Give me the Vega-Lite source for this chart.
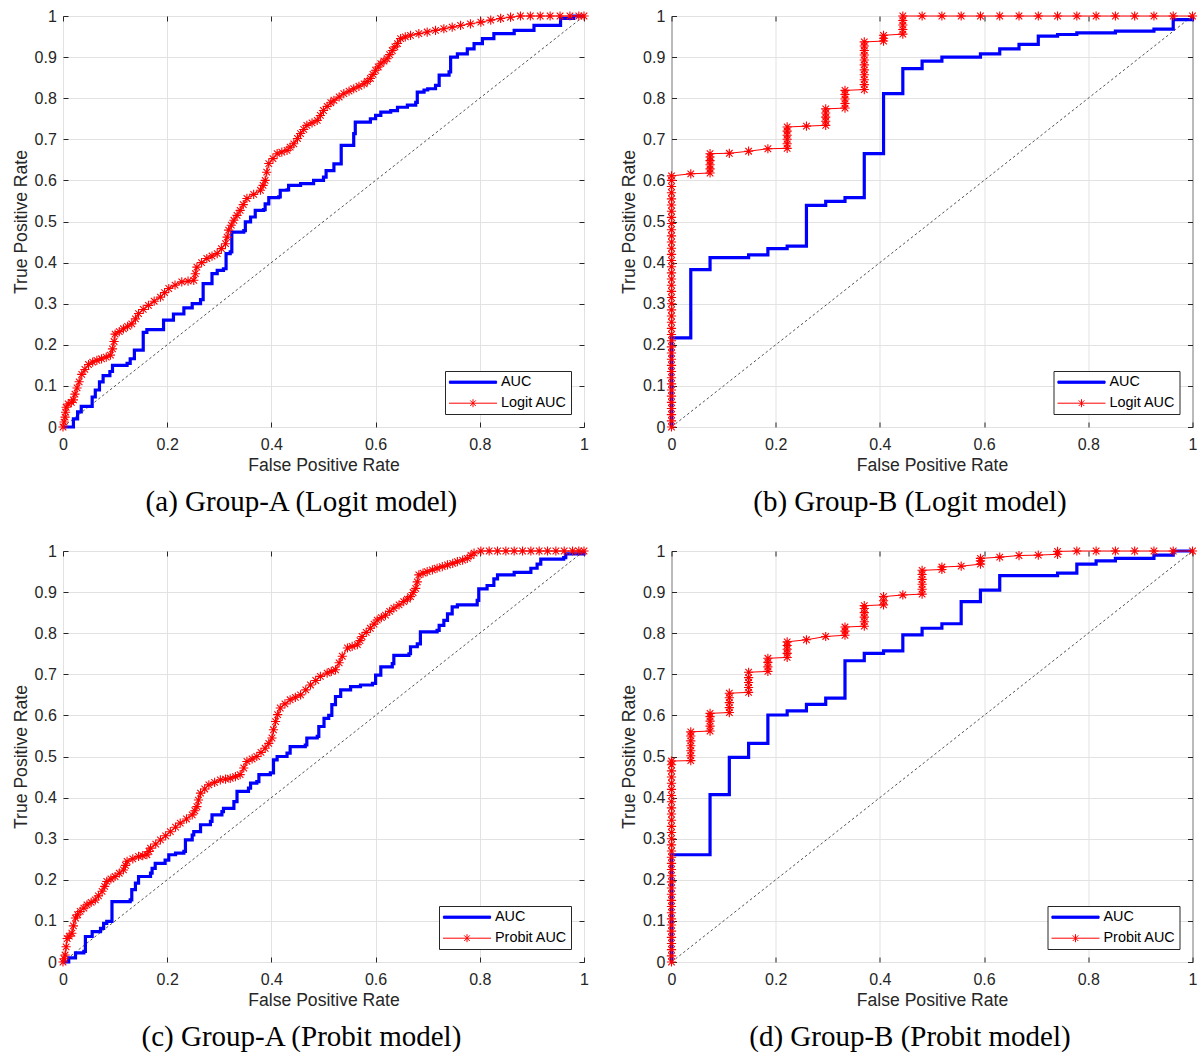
{
"$schema": "https://vega.github.io/schema/vega-lite/v6.json",
"background": "white",
"padding": {"left": 11, "top": 7, "right": 2, "bottom": 2},
"config": {
  "view": {"stroke": "#262626", "strokeWidth": 1},
  "font": "Liberation Sans",
  "axis": {"labelFont": "Liberation Sans", "labelFontSize": 16, "labelColor": "#262626", "titleFont": "Liberation Sans", "titleFontSize": 17.6, "titleColor": "#262626", "titleFontWeight": "normal", "tickColor": "#262626", "tickSize": -5, "domainColor": "#262626", "gridColor": "#e2e2e2", "labelFlush": false, "labelOverlap": false}
},
"datasets": {
"aB": [{"x":0,"y":0},{"x":0.02,"y":0.02},{"x":0.028,"y":0.037},{"x":0.035,"y":0.05},{"x":0.056,"y":0.073},{"x":0.062,"y":0.09},{"x":0.07,"y":0.11},{"x":0.077,"y":0.125},{"x":0.09,"y":0.135},{"x":0.095,"y":0.15},{"x":0.123,"y":0.155},{"x":0.129,"y":0.166},{"x":0.137,"y":0.187},{"x":0.154,"y":0.23},{"x":0.161,"y":0.237},{"x":0.193,"y":0.26},{"x":0.212,"y":0.275},{"x":0.232,"y":0.29},{"x":0.248,"y":0.3},{"x":0.264,"y":0.31},{"x":0.269,"y":0.349},{"x":0.286,"y":0.373},{"x":0.296,"y":0.381},{"x":0.308,"y":0.385},{"x":0.313,"y":0.422},{"x":0.321,"y":0.426},{"x":0.324,"y":0.474},{"x":0.347,"y":0.478},{"x":0.35,"y":0.499},{"x":0.36,"y":0.511},{"x":0.369,"y":0.527},{"x":0.385,"y":0.529},{"x":0.388,"y":0.543},{"x":0.395,"y":0.558},{"x":0.414,"y":0.56},{"x":0.417,"y":0.576},{"x":0.43,"y":0.577},{"x":0.433,"y":0.588},{"x":0.456,"y":0.592},{"x":0.481,"y":0.6},{"x":0.5,"y":0.608},{"x":0.505,"y":0.624},{"x":0.52,"y":0.64},{"x":0.534,"y":0.685},{"x":0.558,"y":0.714},{"x":0.561,"y":0.742},{"x":0.59,"y":0.75},{"x":0.6,"y":0.758},{"x":0.61,"y":0.766},{"x":0.629,"y":0.77},{"x":0.642,"y":0.778},{"x":0.661,"y":0.783},{"x":0.677,"y":0.79},{"x":0.68,"y":0.815},{"x":0.693,"y":0.82},{"x":0.7,"y":0.823},{"x":0.715,"y":0.831},{"x":0.722,"y":0.856},{"x":0.741,"y":0.864},{"x":0.744,"y":0.9},{"x":0.757,"y":0.908},{"x":0.776,"y":0.92},{"x":0.789,"y":0.933},{"x":0.805,"y":0.945},{"x":0.827,"y":0.957},{"x":0.866,"y":0.965},{"x":0.904,"y":0.977},{"x":0.955,"y":0.994},{"x":0.98,"y":1},{"x":1,"y":1}],
"aR": [{"x":0,"y":0},{"x":0.002,"y":0.012},{"x":0.004,"y":0.024},{"x":0.005,"y":0.036},{"x":0.006,"y":0.048},{"x":0.01,"y":0.056},{"x":0.016,"y":0.06},{"x":0.02,"y":0.066},{"x":0.023,"y":0.08},{"x":0.027,"y":0.095},{"x":0.031,"y":0.11},{"x":0.036,"y":0.128},{"x":0.042,"y":0.14},{"x":0.049,"y":0.152},{"x":0.057,"y":0.158},{"x":0.065,"y":0.162},{"x":0.074,"y":0.166},{"x":0.083,"y":0.17},{"x":0.091,"y":0.175},{"x":0.095,"y":0.19},{"x":0.098,"y":0.208},{"x":0.1,"y":0.226},{"x":0.108,"y":0.232},{"x":0.116,"y":0.239},{"x":0.124,"y":0.245},{"x":0.132,"y":0.251},{"x":0.139,"y":0.263},{"x":0.145,"y":0.276},{"x":0.154,"y":0.286},{"x":0.164,"y":0.296},{"x":0.175,"y":0.306},{"x":0.187,"y":0.316},{"x":0.195,"y":0.327},{"x":0.203,"y":0.337},{"x":0.215,"y":0.345},{"x":0.228,"y":0.353},{"x":0.24,"y":0.355},{"x":0.251,"y":0.357},{"x":0.254,"y":0.373},{"x":0.257,"y":0.389},{"x":0.266,"y":0.4},{"x":0.276,"y":0.41},{"x":0.286,"y":0.416},{"x":0.296,"y":0.422},{"x":0.304,"y":0.434},{"x":0.312,"y":0.446},{"x":0.315,"y":0.462},{"x":0.318,"y":0.479},{"x":0.323,"y":0.491},{"x":0.328,"y":0.503},{"x":0.334,"y":0.515},{"x":0.34,"y":0.527},{"x":0.346,"y":0.541},{"x":0.353,"y":0.556},{"x":0.366,"y":0.566},{"x":0.379,"y":0.576},{"x":0.384,"y":0.588},{"x":0.388,"y":0.6},{"x":0.391,"y":0.62},{"x":0.395,"y":0.641},{"x":0.403,"y":0.653},{"x":0.411,"y":0.665},{"x":0.42,"y":0.669},{"x":0.43,"y":0.673},{"x":0.436,"y":0.681},{"x":0.443,"y":0.689},{"x":0.45,"y":0.702},{"x":0.456,"y":0.714},{"x":0.462,"y":0.724},{"x":0.468,"y":0.734},{"x":0.478,"y":0.74},{"x":0.488,"y":0.746},{"x":0.494,"y":0.758},{"x":0.5,"y":0.77},{"x":0.507,"y":0.78},{"x":0.514,"y":0.789},{"x":0.52,"y":0.795},{"x":0.53,"y":0.803},{"x":0.539,"y":0.811},{"x":0.549,"y":0.817},{"x":0.558,"y":0.823},{"x":0.568,"y":0.829},{"x":0.578,"y":0.835},{"x":0.584,"y":0.841},{"x":0.59,"y":0.848},{"x":0.595,"y":0.858},{"x":0.6,"y":0.868},{"x":0.605,"y":0.876},{"x":0.61,"y":0.884},{"x":0.616,"y":0.89},{"x":0.622,"y":0.896},{"x":0.627,"y":0.906},{"x":0.632,"y":0.916},{"x":0.637,"y":0.925},{"x":0.642,"y":0.933},{"x":0.648,"y":0.945},{"x":0.657,"y":0.949},{"x":0.667,"y":0.953},{"x":0.683,"y":0.957},{"x":0.699,"y":0.961},{"x":0.715,"y":0.965},{"x":0.731,"y":0.969},{"x":0.747,"y":0.973},{"x":0.763,"y":0.977},{"x":0.782,"y":0.981},{"x":0.802,"y":0.985},{"x":0.821,"y":0.99},{"x":0.84,"y":0.994},{"x":0.859,"y":0.997},{"x":0.878,"y":1},{"x":0.897,"y":1},{"x":0.916,"y":1},{"x":0.935,"y":1},{"x":0.954,"y":1},{"x":0.973,"y":1},{"x":0.99,"y":1},{"x":1,"y":1}],
"bB": [{"x":0,"y":0},{"x":0,"y":0.217},{"x":0.037,"y":0.383},{"x":0.074,"y":0.412},{"x":0.148,"y":0.419},{"x":0.185,"y":0.434},{"x":0.222,"y":0.44},{"x":0.259,"y":0.539},{"x":0.296,"y":0.549},{"x":0.333,"y":0.558},{"x":0.37,"y":0.665},{"x":0.407,"y":0.811},{"x":0.444,"y":0.872},{"x":0.481,"y":0.89},{"x":0.519,"y":0.9},{"x":0.593,"y":0.908},{"x":0.63,"y":0.92},{"x":0.667,"y":0.931},{"x":0.704,"y":0.951},{"x":0.741,"y":0.955},{"x":0.778,"y":0.959},{"x":0.852,"y":0.963},{"x":0.926,"y":0.968},{"x":0.963,"y":0.991},{"x":1,"y":1}],
"bR": [{"x":0,"y":0},{"x":0,"y":0.015},{"x":0,"y":0.03},{"x":0,"y":0.045},{"x":0,"y":0.06},{"x":0,"y":0.075},{"x":0,"y":0.09},{"x":0,"y":0.105},{"x":0,"y":0.12},{"x":0,"y":0.135},{"x":0,"y":0.15},{"x":0,"y":0.165},{"x":0,"y":0.18},{"x":0,"y":0.195},{"x":0,"y":0.21},{"x":0,"y":0.225},{"x":0,"y":0.24},{"x":0,"y":0.255},{"x":0,"y":0.27},{"x":0,"y":0.285},{"x":0,"y":0.3},{"x":0,"y":0.315},{"x":0,"y":0.33},{"x":0,"y":0.345},{"x":0,"y":0.36},{"x":0,"y":0.375},{"x":0,"y":0.39},{"x":0,"y":0.405},{"x":0,"y":0.42},{"x":0,"y":0.435},{"x":0,"y":0.45},{"x":0,"y":0.465},{"x":0,"y":0.48},{"x":0,"y":0.495},{"x":0,"y":0.51},{"x":0,"y":0.525},{"x":0,"y":0.54},{"x":0,"y":0.555},{"x":0,"y":0.57},{"x":0,"y":0.585},{"x":0,"y":0.6},{"x":0,"y":0.611},{"x":0.037,"y":0.616},{"x":0.074,"y":0.618},{"x":0.074,"y":0.628},{"x":0.074,"y":0.638},{"x":0.074,"y":0.648},{"x":0.074,"y":0.657},{"x":0.074,"y":0.665},{"x":0.111,"y":0.666},{"x":0.148,"y":0.671},{"x":0.185,"y":0.677},{"x":0.222,"y":0.678},{"x":0.222,"y":0.689},{"x":0.222,"y":0.7},{"x":0.222,"y":0.71},{"x":0.222,"y":0.72},{"x":0.222,"y":0.73},{"x":0.259,"y":0.732},{"x":0.296,"y":0.734},{"x":0.296,"y":0.744},{"x":0.296,"y":0.754},{"x":0.296,"y":0.764},{"x":0.296,"y":0.774},{"x":0.333,"y":0.776},{"x":0.333,"y":0.787},{"x":0.333,"y":0.798},{"x":0.333,"y":0.809},{"x":0.333,"y":0.819},{"x":0.37,"y":0.821},{"x":0.37,"y":0.833},{"x":0.37,"y":0.845},{"x":0.37,"y":0.857},{"x":0.37,"y":0.869},{"x":0.37,"y":0.881},{"x":0.37,"y":0.893},{"x":0.37,"y":0.905},{"x":0.37,"y":0.916},{"x":0.37,"y":0.927},{"x":0.37,"y":0.937},{"x":0.407,"y":0.939},{"x":0.407,"y":0.946},{"x":0.407,"y":0.953},{"x":0.444,"y":0.956},{"x":0.444,"y":0.967},{"x":0.444,"y":0.978},{"x":0.444,"y":0.989},{"x":0.444,"y":1},{"x":0.481,"y":1},{"x":0.519,"y":1},{"x":0.556,"y":1},{"x":0.593,"y":1},{"x":0.63,"y":1},{"x":0.667,"y":1},{"x":0.704,"y":1},{"x":0.741,"y":1},{"x":0.778,"y":1},{"x":0.815,"y":1},{"x":0.852,"y":1},{"x":0.889,"y":1},{"x":0.926,"y":1},{"x":0.963,"y":1},{"x":1,"y":1}],
"cB": [{"x":0,"y":0},{"x":0.011,"y":0.01},{"x":0.024,"y":0.022},{"x":0.04,"y":0.026},{"x":0.043,"y":0.062},{"x":0.056,"y":0.074},{"x":0.072,"y":0.082},{"x":0.078,"y":0.094},{"x":0.084,"y":0.099},{"x":0.094,"y":0.147},{"x":0.129,"y":0.151},{"x":0.132,"y":0.176},{"x":0.139,"y":0.192},{"x":0.145,"y":0.208},{"x":0.168,"y":0.216},{"x":0.171,"y":0.228},{"x":0.177,"y":0.24},{"x":0.196,"y":0.248},{"x":0.203,"y":0.261},{"x":0.216,"y":0.265},{"x":0.232,"y":0.269},{"x":0.235,"y":0.297},{"x":0.248,"y":0.309},{"x":0.251,"y":0.317},{"x":0.264,"y":0.334},{"x":0.283,"y":0.342},{"x":0.286,"y":0.358},{"x":0.305,"y":0.366},{"x":0.308,"y":0.374},{"x":0.328,"y":0.39},{"x":0.334,"y":0.415},{"x":0.356,"y":0.423},{"x":0.36,"y":0.435},{"x":0.372,"y":0.439},{"x":0.376,"y":0.456},{"x":0.398,"y":0.46},{"x":0.404,"y":0.492},{"x":0.411,"y":0.5},{"x":0.43,"y":0.508},{"x":0.436,"y":0.524},{"x":0.465,"y":0.528},{"x":0.468,"y":0.545},{"x":0.488,"y":0.549},{"x":0.491,"y":0.573},{"x":0.501,"y":0.593},{"x":0.51,"y":0.6},{"x":0.516,"y":0.626},{"x":0.523,"y":0.646},{"x":0.533,"y":0.662},{"x":0.552,"y":0.67},{"x":0.571,"y":0.674},{"x":0.594,"y":0.678},{"x":0.6,"y":0.698},{"x":0.61,"y":0.718},{"x":0.632,"y":0.726},{"x":0.635,"y":0.746},{"x":0.664,"y":0.75},{"x":0.667,"y":0.767},{"x":0.68,"y":0.774},{"x":0.686,"y":0.803},{"x":0.718,"y":0.807},{"x":0.722,"y":0.819},{"x":0.731,"y":0.831},{"x":0.738,"y":0.847},{"x":0.747,"y":0.864},{"x":0.757,"y":0.869},{"x":0.795,"y":0.88},{"x":0.798,"y":0.908},{"x":0.814,"y":0.916},{"x":0.827,"y":0.932},{"x":0.834,"y":0.942},{"x":0.866,"y":0.948},{"x":0.898,"y":0.958},{"x":0.91,"y":0.968},{"x":0.917,"y":0.98},{"x":0.961,"y":0.984},{"x":0.965,"y":0.993},{"x":1,"y":1}],
"cR": [{"x":0,"y":0},{"x":0.002,"y":0.008},{"x":0.004,"y":0.017},{"x":0.006,"y":0.037},{"x":0.008,"y":0.057},{"x":0.012,"y":0.063},{"x":0.017,"y":0.07},{"x":0.02,"y":0.088},{"x":0.024,"y":0.107},{"x":0.028,"y":0.115},{"x":0.033,"y":0.123},{"x":0.04,"y":0.131},{"x":0.046,"y":0.139},{"x":0.054,"y":0.145},{"x":0.062,"y":0.151},{"x":0.068,"y":0.161},{"x":0.075,"y":0.172},{"x":0.08,"y":0.184},{"x":0.084,"y":0.196},{"x":0.092,"y":0.202},{"x":0.1,"y":0.208},{"x":0.108,"y":0.216},{"x":0.116,"y":0.224},{"x":0.12,"y":0.235},{"x":0.123,"y":0.245},{"x":0.134,"y":0.251},{"x":0.145,"y":0.257},{"x":0.153,"y":0.259},{"x":0.161,"y":0.261},{"x":0.165,"y":0.269},{"x":0.168,"y":0.277},{"x":0.178,"y":0.287},{"x":0.187,"y":0.297},{"x":0.197,"y":0.307},{"x":0.206,"y":0.317},{"x":0.216,"y":0.328},{"x":0.225,"y":0.338},{"x":0.237,"y":0.348},{"x":0.248,"y":0.358},{"x":0.253,"y":0.368},{"x":0.257,"y":0.378},{"x":0.26,"y":0.394},{"x":0.264,"y":0.411},{"x":0.272,"y":0.421},{"x":0.28,"y":0.431},{"x":0.291,"y":0.437},{"x":0.302,"y":0.443},{"x":0.312,"y":0.445},{"x":0.321,"y":0.447},{"x":0.331,"y":0.451},{"x":0.34,"y":0.456},{"x":0.347,"y":0.472},{"x":0.353,"y":0.488},{"x":0.363,"y":0.494},{"x":0.372,"y":0.5},{"x":0.38,"y":0.51},{"x":0.388,"y":0.52},{"x":0.395,"y":0.532},{"x":0.401,"y":0.545},{"x":0.404,"y":0.565},{"x":0.408,"y":0.585},{"x":0.412,"y":0.602},{"x":0.417,"y":0.618},{"x":0.426,"y":0.628},{"x":0.436,"y":0.638},{"x":0.446,"y":0.644},{"x":0.456,"y":0.65},{"x":0.466,"y":0.662},{"x":0.475,"y":0.674},{"x":0.485,"y":0.685},{"x":0.494,"y":0.695},{"x":0.507,"y":0.703},{"x":0.515,"y":0.707},{"x":0.523,"y":0.711},{"x":0.53,"y":0.728},{"x":0.536,"y":0.744},{"x":0.546,"y":0.764},{"x":0.555,"y":0.768},{"x":0.565,"y":0.772},{"x":0.57,"y":0.782},{"x":0.574,"y":0.792},{"x":0.582,"y":0.802},{"x":0.59,"y":0.812},{"x":0.597,"y":0.822},{"x":0.603,"y":0.832},{"x":0.611,"y":0.838},{"x":0.619,"y":0.844},{"x":0.627,"y":0.853},{"x":0.635,"y":0.861},{"x":0.645,"y":0.869},{"x":0.654,"y":0.877},{"x":0.661,"y":0.883},{"x":0.667,"y":0.889},{"x":0.672,"y":0.899},{"x":0.677,"y":0.909},{"x":0.68,"y":0.925},{"x":0.683,"y":0.942},{"x":0.691,"y":0.946},{"x":0.699,"y":0.95},{"x":0.709,"y":0.954},{"x":0.718,"y":0.958},{"x":0.728,"y":0.962},{"x":0.738,"y":0.966},{"x":0.748,"y":0.97},{"x":0.757,"y":0.974},{"x":0.767,"y":0.978},{"x":0.776,"y":0.982},{"x":0.783,"y":0.989},{"x":0.789,"y":0.995},{"x":0.802,"y":1},{"x":0.818,"y":1},{"x":0.834,"y":1},{"x":0.85,"y":1},{"x":0.866,"y":1},{"x":0.882,"y":1},{"x":0.898,"y":1},{"x":0.914,"y":1},{"x":0.93,"y":1},{"x":0.946,"y":1},{"x":0.962,"y":1},{"x":0.978,"y":1},{"x":0.99,"y":1},{"x":1,"y":1}],
"dB": [{"x":0,"y":0},{"x":0,"y":0.261},{"x":0.074,"y":0.407},{"x":0.111,"y":0.498},{"x":0.148,"y":0.532},{"x":0.185,"y":0.601},{"x":0.222,"y":0.611},{"x":0.259,"y":0.627},{"x":0.296,"y":0.642},{"x":0.333,"y":0.733},{"x":0.37,"y":0.751},{"x":0.407,"y":0.757},{"x":0.444,"y":0.796},{"x":0.481,"y":0.812},{"x":0.519,"y":0.823},{"x":0.556,"y":0.877},{"x":0.593,"y":0.905},{"x":0.63,"y":0.94},{"x":0.741,"y":0.946},{"x":0.778,"y":0.968},{"x":0.815,"y":0.976},{"x":0.852,"y":0.982},{"x":0.926,"y":0.99},{"x":0.963,"y":1},{"x":1,"y":1}],
"dR": [{"x":0,"y":0},{"x":0,"y":0.015},{"x":0,"y":0.03},{"x":0,"y":0.045},{"x":0,"y":0.06},{"x":0,"y":0.075},{"x":0,"y":0.09},{"x":0,"y":0.105},{"x":0,"y":0.12},{"x":0,"y":0.135},{"x":0,"y":0.15},{"x":0,"y":0.165},{"x":0,"y":0.18},{"x":0,"y":0.195},{"x":0,"y":0.21},{"x":0,"y":0.225},{"x":0,"y":0.24},{"x":0,"y":0.255},{"x":0,"y":0.27},{"x":0,"y":0.285},{"x":0,"y":0.3},{"x":0,"y":0.315},{"x":0,"y":0.33},{"x":0,"y":0.345},{"x":0,"y":0.36},{"x":0,"y":0.375},{"x":0,"y":0.39},{"x":0,"y":0.405},{"x":0,"y":0.42},{"x":0,"y":0.435},{"x":0,"y":0.45},{"x":0,"y":0.465},{"x":0,"y":0.48},{"x":0,"y":0.489},{"x":0.037,"y":0.49},{"x":0.037,"y":0.502},{"x":0.037,"y":0.514},{"x":0.037,"y":0.526},{"x":0.037,"y":0.538},{"x":0.037,"y":0.55},{"x":0.037,"y":0.56},{"x":0.074,"y":0.562},{"x":0.074,"y":0.574},{"x":0.074,"y":0.586},{"x":0.074,"y":0.597},{"x":0.074,"y":0.605},{"x":0.111,"y":0.607},{"x":0.111,"y":0.619},{"x":0.111,"y":0.631},{"x":0.111,"y":0.643},{"x":0.111,"y":0.654},{"x":0.148,"y":0.656},{"x":0.148,"y":0.668},{"x":0.148,"y":0.68},{"x":0.148,"y":0.692},{"x":0.148,"y":0.705},{"x":0.185,"y":0.707},{"x":0.185,"y":0.718},{"x":0.185,"y":0.729},{"x":0.185,"y":0.739},{"x":0.222,"y":0.741},{"x":0.222,"y":0.751},{"x":0.222,"y":0.761},{"x":0.222,"y":0.77},{"x":0.222,"y":0.779},{"x":0.259,"y":0.784},{"x":0.296,"y":0.792},{"x":0.333,"y":0.795},{"x":0.333,"y":0.805},{"x":0.333,"y":0.815},{"x":0.37,"y":0.817},{"x":0.37,"y":0.828},{"x":0.37,"y":0.839},{"x":0.37,"y":0.85},{"x":0.37,"y":0.86},{"x":0.37,"y":0.867},{"x":0.407,"y":0.869},{"x":0.407,"y":0.879},{"x":0.407,"y":0.889},{"x":0.444,"y":0.893},{"x":0.481,"y":0.895},{"x":0.481,"y":0.907},{"x":0.481,"y":0.919},{"x":0.481,"y":0.931},{"x":0.481,"y":0.943},{"x":0.481,"y":0.953},{"x":0.519,"y":0.955},{"x":0.519,"y":0.961},{"x":0.556,"y":0.963},{"x":0.593,"y":0.968},{"x":0.593,"y":0.976},{"x":0.593,"y":0.982},{"x":0.63,"y":0.985},{"x":0.667,"y":0.989},{"x":0.704,"y":0.99},{"x":0.741,"y":0.992},{"x":0.741,"y":0.999},{"x":0.778,"y":1},{"x":0.815,"y":1},{"x":0.852,"y":1},{"x":0.889,"y":1},{"x":0.926,"y":1},{"x":0.963,"y":1},{"x":1,"y":1}]
},
"columns": 2,
"spacing": {"column": 27.5, "row": 24},
"resolve": {"scale": {"color": "independent"}, "legend": {"color": "independent"}},
"concat": [
{
 "width": 521, "height": 411,
 "title": {"text": "(a) Group-A (Logit model)", "orient": "bottom", "frame": "bounds", "anchor": "middle", "font": "Liberation Serif", "fontSize": 29, "fontWeight": "normal", "color": "#000000", "offset": 14},
 "resolve": {"axis": {"x": "independent", "y": "independent"}},
 "layer": [
  {"data": {"values": [{"x":0,"y":0},{"x":1,"y":1}]}, "mark": {"type": "line", "color": "#262626", "strokeWidth": 0.8, "strokeDash": [2.5, 2.5]},
   "encoding": {"x": {"field": "x", "type": "quantitative", "scale": {"domain": [0, 1], "nice": false}, "axis": {"orient": "bottom", "values": [0,0.2,0.4,0.6,0.8,1], "format": "~g", "grid": true, "domain": false, "title": "False Positive Rate", "labelPadding": 14, "titlePadding": 4}},
                "y": {"field": "y", "type": "quantitative", "scale": {"domain": [0, 1], "nice": false}, "axis": {"orient": "left", "values": [0,0.1,0.2,0.3,0.4,0.5,0.6,0.7,0.8,0.9,1], "format": "~g", "grid": true, "domain": false, "title": "True Positive Rate", "labelPadding": 11.7, "titlePadding": 4}}}},
  {"data": {"name": "aB"}, "mark": {"type": "line", "interpolate": "step-after", "strokeWidth": 3.2},
   "encoding": {"x": {"field": "x", "type": "quantitative", "axis": {"orient": "top", "values": [0,0.2,0.4,0.6,0.8,1], "grid": false, "labels": false, "domain": false, "title": null}},
                "y": {"field": "y", "type": "quantitative", "axis": {"orient": "right", "values": [0,0.1,0.2,0.3,0.4,0.5,0.6,0.7,0.8,0.9,1], "grid": false, "labels": false, "domain": false, "title": null}},
                "order": [{"field": "x", "type": "quantitative"}, {"field": "y", "type": "quantitative"}],
                "color": {"datum": "AUC", "type": "nominal", "scale": {"domain": ["AUC", "Logit AUC"], "range": ["#0000ff", "#ff0000"]},
                          "legend": {"title": null, "orient": "bottom-right", "offset": 13, "padding": 4, "rowPadding": 6, "labelFont": "Liberation Sans", "labelFontSize": 14.4, "labelColor": "#000000", "labelOffset": 37.6, "labelLimit": 300, "strokeColor": "#262626", "fillColor": "#ffffff", "symbolSize": 16, "cornerRadius": 0,
                                     "encoding": {"symbols": {"shape": {"condition": {"test": "datum.value === 'AUC'", "value": "M-3.4,-0.55L20.2,-0.55L20.2,0.55L-3.4,0.55Z"}, "value": "M-3.6,0L20.4,0M8.4,-2L8.4,2M7,-1.4L9.8,1.4M7,1.4L9.8,-1.4"},
                                                              "fill": {"condition": {"test": "datum.value === 'AUC'", "value": "#0000ff"}, "value": "transparent"},
                                                              "stroke": {"condition": {"test": "datum.value === 'AUC'", "value": "#0000ff"}, "value": "#ff0000"},
                                                              "strokeWidth": {"value": 1}, "size": {"value": 16}, "opacity": {"value": 1}, "strokeDash": {"value": []}}}}}}},
  {"data": {"name": "aR"}, "mark": {"type": "line", "strokeWidth": 1},
   "encoding": {"x": {"field": "x", "type": "quantitative", "axis": null}, "y": {"field": "y", "type": "quantitative", "axis": null},
                "order": [{"field": "x", "type": "quantitative"}, {"field": "y", "type": "quantitative"}],
                "color": {"datum": "Logit AUC", "type": "nominal"}}},
  {"data": {"name": "aR"}, "mark": {"type": "point", "shape": "M0,-1L0,1M-1,0L1,0M-0.71,-0.71L0.71,0.71M-0.71,0.71L0.71,-0.71", "filled": false, "size": 85, "strokeWidth": 1.1, "opacity": 1},
   "encoding": {"x": {"field": "x", "type": "quantitative", "axis": null}, "y": {"field": "y", "type": "quantitative", "axis": null},
                "color": {"datum": "Logit AUC", "type": "nominal"}}}
 ]
},
{
 "width": 521, "height": 411,
 "title": {"text": "(b) Group-B (Logit model)", "orient": "bottom", "frame": "bounds", "anchor": "middle", "font": "Liberation Serif", "fontSize": 29, "fontWeight": "normal", "color": "#000000", "offset": 14},
 "resolve": {"axis": {"x": "independent", "y": "independent"}},
 "layer": [
  {"data": {"values": [{"x":0,"y":0},{"x":1,"y":1}]}, "mark": {"type": "line", "color": "#262626", "strokeWidth": 0.8, "strokeDash": [2.5, 2.5]},
   "encoding": {"x": {"field": "x", "type": "quantitative", "scale": {"domain": [0, 1], "nice": false}, "axis": {"orient": "bottom", "values": [0,0.2,0.4,0.6,0.8,1], "format": "~g", "grid": true, "domain": false, "title": "False Positive Rate", "labelPadding": 14, "titlePadding": 4}},
                "y": {"field": "y", "type": "quantitative", "scale": {"domain": [0, 1], "nice": false}, "axis": {"orient": "left", "values": [0,0.1,0.2,0.3,0.4,0.5,0.6,0.7,0.8,0.9,1], "format": "~g", "grid": true, "domain": false, "title": "True Positive Rate", "labelPadding": 11.7, "titlePadding": 4}}}},
  {"data": {"name": "bB"}, "mark": {"type": "line", "interpolate": "step-after", "strokeWidth": 3.2},
   "encoding": {"x": {"field": "x", "type": "quantitative", "axis": {"orient": "top", "values": [0,0.2,0.4,0.6,0.8,1], "grid": false, "labels": false, "domain": false, "title": null}},
                "y": {"field": "y", "type": "quantitative", "axis": {"orient": "right", "values": [0,0.1,0.2,0.3,0.4,0.5,0.6,0.7,0.8,0.9,1], "grid": false, "labels": false, "domain": false, "title": null}},
                "order": [{"field": "x", "type": "quantitative"}, {"field": "y", "type": "quantitative"}],
                "color": {"datum": "AUC", "type": "nominal", "scale": {"domain": ["AUC", "Logit AUC"], "range": ["#0000ff", "#ff0000"]},
                          "legend": {"title": null, "orient": "bottom-right", "offset": 13, "padding": 4, "rowPadding": 6, "labelFont": "Liberation Sans", "labelFontSize": 14.4, "labelColor": "#000000", "labelOffset": 37.6, "labelLimit": 300, "strokeColor": "#262626", "fillColor": "#ffffff", "symbolSize": 16, "cornerRadius": 0,
                                     "encoding": {"symbols": {"shape": {"condition": {"test": "datum.value === 'AUC'", "value": "M-3.4,-0.55L20.2,-0.55L20.2,0.55L-3.4,0.55Z"}, "value": "M-3.6,0L20.4,0M8.4,-2L8.4,2M7,-1.4L9.8,1.4M7,1.4L9.8,-1.4"},
                                                              "fill": {"condition": {"test": "datum.value === 'AUC'", "value": "#0000ff"}, "value": "transparent"},
                                                              "stroke": {"condition": {"test": "datum.value === 'AUC'", "value": "#0000ff"}, "value": "#ff0000"},
                                                              "strokeWidth": {"value": 1}, "size": {"value": 16}, "opacity": {"value": 1}, "strokeDash": {"value": []}}}}}}},
  {"data": {"name": "bR"}, "mark": {"type": "line", "strokeWidth": 1},
   "encoding": {"x": {"field": "x", "type": "quantitative", "axis": null}, "y": {"field": "y", "type": "quantitative", "axis": null},
                "order": [{"field": "x", "type": "quantitative"}, {"field": "y", "type": "quantitative"}],
                "color": {"datum": "Logit AUC", "type": "nominal"}}},
  {"data": {"name": "bR"}, "mark": {"type": "point", "shape": "M0,-1L0,1M-1,0L1,0M-0.71,-0.71L0.71,0.71M-0.71,0.71L0.71,-0.71", "filled": false, "size": 85, "strokeWidth": 1.1, "opacity": 1},
   "encoding": {"x": {"field": "x", "type": "quantitative", "axis": null}, "y": {"field": "y", "type": "quantitative", "axis": null},
                "color": {"datum": "Logit AUC", "type": "nominal"}}}
 ]
},
{
 "width": 521, "height": 411,
 "title": {"text": "(c) Group-A (Probit model)", "orient": "bottom", "frame": "bounds", "anchor": "middle", "font": "Liberation Serif", "fontSize": 29, "fontWeight": "normal", "color": "#000000", "offset": 14},
 "resolve": {"axis": {"x": "independent", "y": "independent"}},
 "layer": [
  {"data": {"values": [{"x":0,"y":0},{"x":1,"y":1}]}, "mark": {"type": "line", "color": "#262626", "strokeWidth": 0.8, "strokeDash": [2.5, 2.5]},
   "encoding": {"x": {"field": "x", "type": "quantitative", "scale": {"domain": [0, 1], "nice": false}, "axis": {"orient": "bottom", "values": [0,0.2,0.4,0.6,0.8,1], "format": "~g", "grid": true, "domain": false, "title": "False Positive Rate", "labelPadding": 14, "titlePadding": 4}},
                "y": {"field": "y", "type": "quantitative", "scale": {"domain": [0, 1], "nice": false}, "axis": {"orient": "left", "values": [0,0.1,0.2,0.3,0.4,0.5,0.6,0.7,0.8,0.9,1], "format": "~g", "grid": true, "domain": false, "title": "True Positive Rate", "labelPadding": 11.7, "titlePadding": 4}}}},
  {"data": {"name": "cB"}, "mark": {"type": "line", "interpolate": "step-after", "strokeWidth": 3.2},
   "encoding": {"x": {"field": "x", "type": "quantitative", "axis": {"orient": "top", "values": [0,0.2,0.4,0.6,0.8,1], "grid": false, "labels": false, "domain": false, "title": null}},
                "y": {"field": "y", "type": "quantitative", "axis": {"orient": "right", "values": [0,0.1,0.2,0.3,0.4,0.5,0.6,0.7,0.8,0.9,1], "grid": false, "labels": false, "domain": false, "title": null}},
                "order": [{"field": "x", "type": "quantitative"}, {"field": "y", "type": "quantitative"}],
                "color": {"datum": "AUC", "type": "nominal", "scale": {"domain": ["AUC", "Probit AUC"], "range": ["#0000ff", "#ff0000"]},
                          "legend": {"title": null, "orient": "bottom-right", "offset": 13, "padding": 4, "rowPadding": 6, "labelFont": "Liberation Sans", "labelFontSize": 14.4, "labelColor": "#000000", "labelOffset": 37.6, "labelLimit": 300, "strokeColor": "#262626", "fillColor": "#ffffff", "symbolSize": 16, "cornerRadius": 0,
                                     "encoding": {"symbols": {"shape": {"condition": {"test": "datum.value === 'AUC'", "value": "M-3.4,-0.55L20.2,-0.55L20.2,0.55L-3.4,0.55Z"}, "value": "M-3.6,0L20.4,0M8.4,-2L8.4,2M7,-1.4L9.8,1.4M7,1.4L9.8,-1.4"},
                                                              "fill": {"condition": {"test": "datum.value === 'AUC'", "value": "#0000ff"}, "value": "transparent"},
                                                              "stroke": {"condition": {"test": "datum.value === 'AUC'", "value": "#0000ff"}, "value": "#ff0000"},
                                                              "strokeWidth": {"value": 1}, "size": {"value": 16}, "opacity": {"value": 1}, "strokeDash": {"value": []}}}}}}},
  {"data": {"name": "cR"}, "mark": {"type": "line", "strokeWidth": 1},
   "encoding": {"x": {"field": "x", "type": "quantitative", "axis": null}, "y": {"field": "y", "type": "quantitative", "axis": null},
                "order": [{"field": "x", "type": "quantitative"}, {"field": "y", "type": "quantitative"}],
                "color": {"datum": "Probit AUC", "type": "nominal"}}},
  {"data": {"name": "cR"}, "mark": {"type": "point", "shape": "M0,-1L0,1M-1,0L1,0M-0.71,-0.71L0.71,0.71M-0.71,0.71L0.71,-0.71", "filled": false, "size": 85, "strokeWidth": 1.1, "opacity": 1},
   "encoding": {"x": {"field": "x", "type": "quantitative", "axis": null}, "y": {"field": "y", "type": "quantitative", "axis": null},
                "color": {"datum": "Probit AUC", "type": "nominal"}}}
 ]
},
{
 "width": 521, "height": 411,
 "title": {"text": "(d) Group-B (Probit model)", "orient": "bottom", "frame": "bounds", "anchor": "middle", "font": "Liberation Serif", "fontSize": 29, "fontWeight": "normal", "color": "#000000", "offset": 14},
 "resolve": {"axis": {"x": "independent", "y": "independent"}},
 "layer": [
  {"data": {"values": [{"x":0,"y":0},{"x":1,"y":1}]}, "mark": {"type": "line", "color": "#262626", "strokeWidth": 0.8, "strokeDash": [2.5, 2.5]},
   "encoding": {"x": {"field": "x", "type": "quantitative", "scale": {"domain": [0, 1], "nice": false}, "axis": {"orient": "bottom", "values": [0,0.2,0.4,0.6,0.8,1], "format": "~g", "grid": true, "domain": false, "title": "False Positive Rate", "labelPadding": 14, "titlePadding": 4}},
                "y": {"field": "y", "type": "quantitative", "scale": {"domain": [0, 1], "nice": false}, "axis": {"orient": "left", "values": [0,0.1,0.2,0.3,0.4,0.5,0.6,0.7,0.8,0.9,1], "format": "~g", "grid": true, "domain": false, "title": "True Positive Rate", "labelPadding": 11.7, "titlePadding": 4}}}},
  {"data": {"name": "dB"}, "mark": {"type": "line", "interpolate": "step-after", "strokeWidth": 3.2},
   "encoding": {"x": {"field": "x", "type": "quantitative", "axis": {"orient": "top", "values": [0,0.2,0.4,0.6,0.8,1], "grid": false, "labels": false, "domain": false, "title": null}},
                "y": {"field": "y", "type": "quantitative", "axis": {"orient": "right", "values": [0,0.1,0.2,0.3,0.4,0.5,0.6,0.7,0.8,0.9,1], "grid": false, "labels": false, "domain": false, "title": null}},
                "order": [{"field": "x", "type": "quantitative"}, {"field": "y", "type": "quantitative"}],
                "color": {"datum": "AUC", "type": "nominal", "scale": {"domain": ["AUC", "Probit AUC"], "range": ["#0000ff", "#ff0000"]},
                          "legend": {"title": null, "orient": "bottom-right", "offset": 13, "padding": 4, "rowPadding": 6, "labelFont": "Liberation Sans", "labelFontSize": 14.4, "labelColor": "#000000", "labelOffset": 37.6, "labelLimit": 300, "strokeColor": "#262626", "fillColor": "#ffffff", "symbolSize": 16, "cornerRadius": 0,
                                     "encoding": {"symbols": {"shape": {"condition": {"test": "datum.value === 'AUC'", "value": "M-3.4,-0.55L20.2,-0.55L20.2,0.55L-3.4,0.55Z"}, "value": "M-3.6,0L20.4,0M8.4,-2L8.4,2M7,-1.4L9.8,1.4M7,1.4L9.8,-1.4"},
                                                              "fill": {"condition": {"test": "datum.value === 'AUC'", "value": "#0000ff"}, "value": "transparent"},
                                                              "stroke": {"condition": {"test": "datum.value === 'AUC'", "value": "#0000ff"}, "value": "#ff0000"},
                                                              "strokeWidth": {"value": 1}, "size": {"value": 16}, "opacity": {"value": 1}, "strokeDash": {"value": []}}}}}}},
  {"data": {"name": "dR"}, "mark": {"type": "line", "strokeWidth": 1},
   "encoding": {"x": {"field": "x", "type": "quantitative", "axis": null}, "y": {"field": "y", "type": "quantitative", "axis": null},
                "order": [{"field": "x", "type": "quantitative"}, {"field": "y", "type": "quantitative"}],
                "color": {"datum": "Probit AUC", "type": "nominal"}}},
  {"data": {"name": "dR"}, "mark": {"type": "point", "shape": "M0,-1L0,1M-1,0L1,0M-0.71,-0.71L0.71,0.71M-0.71,0.71L0.71,-0.71", "filled": false, "size": 85, "strokeWidth": 1.1, "opacity": 1},
   "encoding": {"x": {"field": "x", "type": "quantitative", "axis": null}, "y": {"field": "y", "type": "quantitative", "axis": null},
                "color": {"datum": "Probit AUC", "type": "nominal"}}}
 ]
}
]
}
